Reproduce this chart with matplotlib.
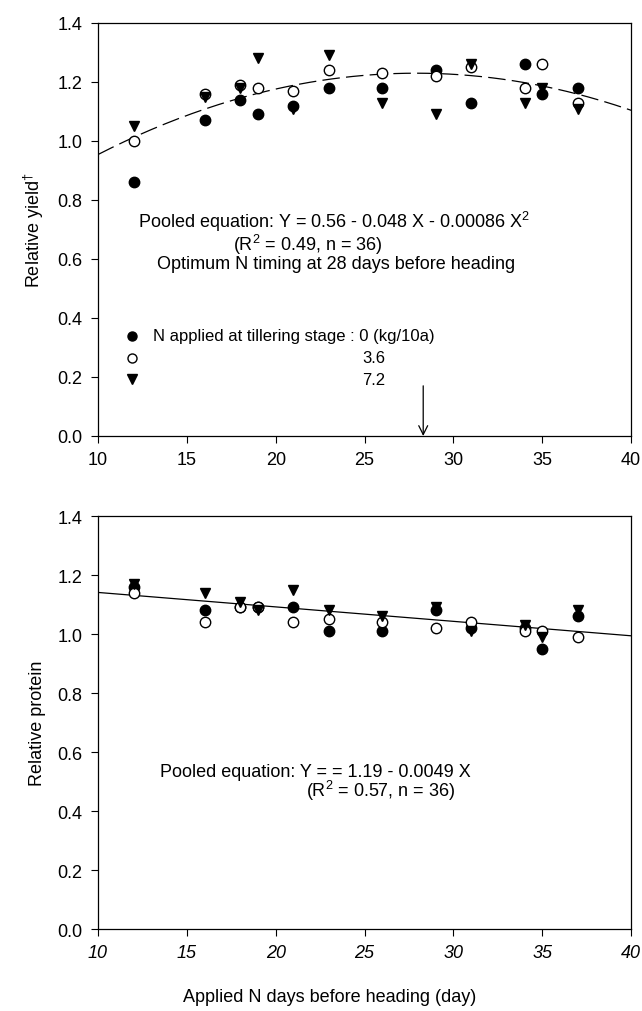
import numpy as np
import matplotlib
matplotlib.use("Agg")
import matplotlib.pyplot as plt

plt.rcParams['font.family'] = ['Liberation Sans', 'DejaVu Sans']
plt.rcParams['mathtext.fontset'] = 'custom'
plt.rcParams['mathtext.rm'] = 'Liberation Sans'
plt.rcParams['mathtext.it'] = 'Liberation Sans:italic'

# days before heading when N was applied
days = [12, 16, 18, 19, 21, 23, 26, 29, 31, 34, 35, 37]

# relative yield, N at tillering stage 0 / 3.6 / 7.2 kg/10a
yield_n0 = [0.86, 1.07, 1.14, 1.09, 1.12, 1.18, 1.18, 1.24, 1.13, 1.26, 1.16, 1.18]
yield_n36 = [1.00, 1.16, 1.19, 1.18, 1.17, 1.24, 1.23, 1.22, 1.25, 1.18, 1.26, 1.13]
yield_n72 = [1.05, 1.15, 1.18, 1.28, 1.11, 1.29, 1.13, 1.09, 1.26, 1.13, 1.18, 1.11]

# relative protein
protein_n0 = [1.16, 1.08, 1.09, 1.09, 1.09, 1.01, 1.01, 1.08, 1.02, 1.02, 0.95, 1.06]
protein_n36 = [1.14, 1.04, 1.09, 1.09, 1.04, 1.05, 1.04, 1.02, 1.04, 1.01, 1.01, 0.99]
protein_n72 = [1.17, 1.14, 1.11, 1.08, 1.15, 1.08, 1.06, 1.09, 1.01, 1.03, 0.99, 1.08]

# pooled regression coefficients (c0, c1, c2)
yield_coef = [0.56, 0.048, -0.00086]
protein_coef = [1.19, -0.0049, 0.0]
optimum_day = 28.3

fig = plt.figure(figsize=(6.42, 10.12), dpi=100)
ax1 = fig.add_axes([0.1526, 0.5682, 0.8305, 0.4081])
ax2 = fig.add_axes([0.1526, 0.0810, 0.8305, 0.4081])


def draw_points(ax, n0, n36, n72):
    ax.plot(days, n0, 'o', color='black', ms=7.5, zorder=3, clip_on=False)
    ax.plot(days, n36, 'o', mfc='white', mec='black', mew=1.0, ms=7.5, zorder=4, clip_on=False)
    ax.plot(days, n72, 'v', color='black', ms=7.5, zorder=5, clip_on=False)


def style_axes(ax, italic=False):
    ax.set_xlim(10, 40)
    ax.set_ylim(0, 1.4)
    ax.set_xticks(range(10, 41, 5))
    ax.set_yticks(np.arange(0, 1.41, 0.2))
    ax.yaxis.set_major_formatter(plt.FormatStrFormatter('%.1f'))
    ax.tick_params(direction='out', length=5, width=0.8, labelsize=13,
                   top=False, right=False, pad=6)
    for s in ax.spines.values():
        s.set_linewidth(0.9)
    if italic:
        for t in ax.get_xticklabels():
            t.set_fontstyle('italic')


xs = np.linspace(10, 40, 200)

# top panel: yield
draw_points(ax1, yield_n0, yield_n36, yield_n72)
ax1.plot(xs, yield_coef[0] + yield_coef[1] * xs + yield_coef[2] * xs ** 2,
         color='black', lw=0.9, dashes=(14, 5), zorder=2)
style_axes(ax1)
ax1.set_ylabel('Relative yield$^{†}$', fontsize=13, labelpad=8)

ax1.text(23.3, 0.73, 'Pooled equation: Y = 0.56 - 0.048 X - 0.00086 X$\\mathregular{^2}$',
         ha='center', va='center', fontsize=13)
ax1.text(21.8, 0.65, '(R$\\mathregular{^2}$ = 0.49, n = 36)',
         ha='center', va='center', fontsize=13)
ax1.text(23.4, 0.585, 'Optimum N timing at 28 days before heading',
         ha='center', va='center', fontsize=13)

# legend drawn as text inside the axes
leg_y = [0.34, 0.266, 0.192]
ax1.plot([11.9], [leg_y[0]], 'o', color='black', ms=6.5)
ax1.plot([11.9], [leg_y[1]], 'o', mfc='white', mec='black', mew=1.0, ms=6.5)
ax1.plot([11.9], [leg_y[2]], 'v', color='black', ms=6.5)
ax1.text(13.1, leg_y[0], 'N applied at tillering stage : 0 (kg/10a)', va='center', fontsize=12)
ax1.text(25.5, leg_y[1], '3.6', va='center', ha='center', fontsize=12)
ax1.text(25.5, leg_y[2], '7.2', va='center', ha='center', fontsize=12)

ax1.annotate('', xy=(optimum_day, 0.0), xytext=(optimum_day, 0.17),
             arrowprops=dict(arrowstyle='->', color='black', lw=0.9,
                             mutation_scale=16, shrinkA=0, shrinkB=0))

# bottom panel: protein
draw_points(ax2, protein_n0, protein_n36, protein_n72)
ax2.plot(xs, protein_coef[0] + protein_coef[1] * xs + protein_coef[2] * xs ** 2,
         color='black', lw=0.9, zorder=2)
style_axes(ax2, italic=True)
ax2.set_ylabel('Relative protein', fontsize=13, labelpad=8)

ax2.text(13.5, 0.535, 'Pooled equation: Y = = 1.19 - 0.0049 X',
         ha='left', va='center', fontsize=13)
ax2.text(21.7, 0.47, '(R$\\mathregular{^2}$ = 0.57, n = 36)',
         ha='left', va='center', fontsize=13)

fig.text(330 / 642, 1 - 998 / 1012, 'Applied N days before heading (day)',
         ha='center', va='center', fontsize=13)

fig.savefig('out.png', dpi=100)
